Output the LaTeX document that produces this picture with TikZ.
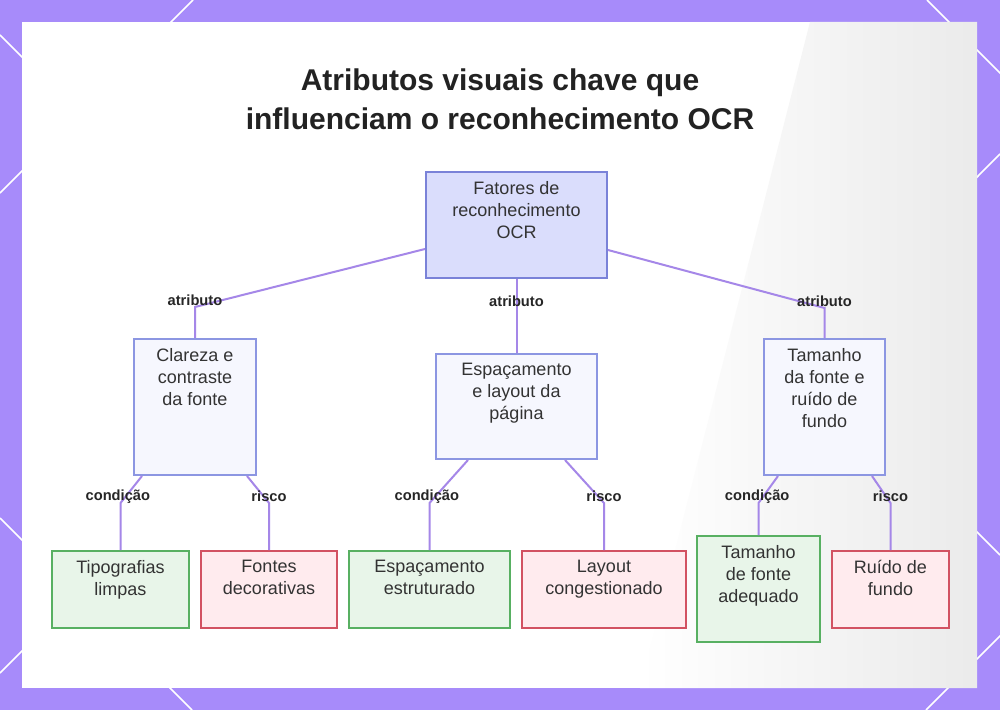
\documentclass[tikz,border=0pt]{standalone}
\usepackage{fontspec}
\setmainfont{Liberation Sans}
\usetikzlibrary{calc}
\definecolor{bgpurple}{RGB}{167,139,250}
\definecolor{connc}{RGB}{165,135,232}
\definecolor{rootfill}{RGB}{218,221,252}
\definecolor{rootdraw}{RGB}{122,130,216}
\definecolor{subfill}{RGB}{246,247,254}
\definecolor{subdraw}{RGB}{140,150,226}
\definecolor{gfill}{RGB}{232,245,233}
\definecolor{gdraw}{RGB}{88,176,98}
\definecolor{rfill}{RGB}{255,235,238}
\definecolor{rdraw}{RGB}{210,82,98}
\definecolor{txt}{RGB}{51,51,51}
\definecolor{ttl}{RGB}{34,34,34}
\tikzset{
  boxbase/.style={anchor=north west, inner sep=0pt, line width=1.5pt},
  rootbox/.style={boxbase, draw=rootdraw, fill=rootfill},
  subbox/.style={boxbase, draw=subdraw, fill=subfill},
  goodbox/.style={boxbase, draw=gdraw, fill=gfill},
  badbox/.style={boxbase, draw=rdraw, fill=rfill},
  boxtext/.style={anchor=north, inner sep=0pt, align=center, text=txt,
    font=\fontsize{13.5}{16.5}\selectfont, yshift=-7.5pt},
  conn/.style={draw=connc, line width=1.5pt},
  lbl/.style={inner sep=0pt, text=black!85, font=\bfseries\fontsize{11}{12}\selectfont, yshift=5pt},
  diag/.style={draw=white, line width=1.2pt}
}
\begin{document}
\begin{tikzpicture}[x=0.75pt,y=-0.75pt]
\useasboundingbox (0,0) rectangle (1000,710);
% background
\fill[bgpurple] (0,0) rectangle (1000,710);
\begin{scope}
\clip (0,0) rectangle (1000,710);
\draw[diag] (193,0) -- (0,193);
\draw[diag] (927,0) -- (1010,83);
\draw[diag] (0,518) -- (192,710);
\draw[diag] (1010,626) -- (926,710);
\draw[diag] (0,35) -- (319,354) -- (0,673);
\draw[diag] (1000,555) -- (800,355) -- (1000,154);
\end{scope}
\fill[white] (22,22) rectangle (977,688);
\shade[left color=white, right color=black!8] (810,22) -- (977,22) -- (977,688) -- (640,688) -- cycle;

% title
\node[align=center, text=ttl, font=\bfseries\fontsize{22.5}{29.25}\selectfont] (title) at (500,99.5)
  {Atributos visuais chave que\\influenciam o reconhecimento OCR};

% boxes
\node[rootbox, minimum width=135.75pt, minimum height=79.5pt] (root) at (425,171) {};
\node[boxtext] (roott) at (root.north) {Fatores de\\reconhecimento\\OCR};

\node[subbox, minimum width=91.5pt, minimum height=102pt] (clareza) at (133,338) {};
\node[boxtext] (clarezat) at (clareza.north) {Clareza e\\contraste\\da fonte};

\node[subbox, minimum width=120.75pt, minimum height=78.75pt] (esp) at (435,353) {};
\node[boxtext] (espt) at (esp.north) {Espaçamento\\e layout da\\página};

\node[subbox, minimum width=90.75pt, minimum height=102pt] (tam) at (763,338) {};
\node[boxtext] (tamt) at (tam.north) {Tamanho\\da fonte e\\ruído de\\fundo};

\node[goodbox, minimum width=102.75pt, minimum height=57.75pt] (tipo) at (51,550) {};
\node[boxtext] (tipot) at (tipo.north) {Tipografias\\limpas};

\node[badbox, minimum width=102pt, minimum height=57.75pt] (fontes) at (200,550) {};
\node[boxtext] (fontest) at (fontes.north) {Fontes\\decorativas};

\node[goodbox, minimum width=120.75pt, minimum height=57.75pt] (estr) at (348,550) {};
\node[boxtext] (estrt) at (estr.north) {Espaçamento\\estruturado};

\node[badbox, minimum width=123pt, minimum height=57.75pt] (layout) at (521,550) {};
\node[boxtext] (layoutt) at (layout.north) {Layout\\congestionado};

\node[goodbox, minimum width=92.25pt, minimum height=79.5pt] (adeq) at (696,535) {};
\node[boxtext] (adeqt) at (adeq.north) {Tamanho\\de fonte\\adequado};

\node[badbox, minimum width=87.75pt, minimum height=57.75pt] (ruido) at (831,550) {};
\node[boxtext] (ruidot) at (ruido.north) {Ruído de\\fundo};

% connectors
\draw[conn] ($(root.south west)+(0,-30)$) -- ($(clareza.north)+(0,-31)$) node[lbl]{atributo} -- (clareza.north);
\draw[conn] (root.south) -- (esp.north) node[lbl, pos=0.3, yshift=-5pt]{atributo};
\draw[conn] ($(root.south east)+(0,-29)$) -- ($(tam.north)+(0,-30)$) node[lbl]{atributo} -- (tam.north);

\draw[conn] ($(clareza.south west)+(9,0)$) -- ($(tipo.north)+(0,-47)$) node[lbl, xshift=-2pt]{condição} -- (tipo.north);
\draw[conn] ($(clareza.south east)+(-10,0)$) -- ($(fontes.north)+(0,-47)$) node[lbl]{risco} -- (fontes.north);
\draw[conn] ($(esp.south west)+(33,0)$) -- ($(estr.north)+(0,-47)$) node[lbl, xshift=-2pt]{condição} -- (estr.north);
\draw[conn] ($(esp.south east)+(-33,0)$) -- ($(layout.north)+(0,-47)$) node[lbl]{risco} -- (layout.north);
\draw[conn] ($(tam.south west)+(15,0)$) -- ($(adeq.north)+(0,-32)$) node[lbl, xshift=-1pt]{condição} -- (adeq.north);
\draw[conn] ($(tam.south east)+(-14,0)$) -- ($(ruido.north)+(0,-47)$) node[lbl]{risco} -- (ruido.north);
\end{tikzpicture}
\end{document}
